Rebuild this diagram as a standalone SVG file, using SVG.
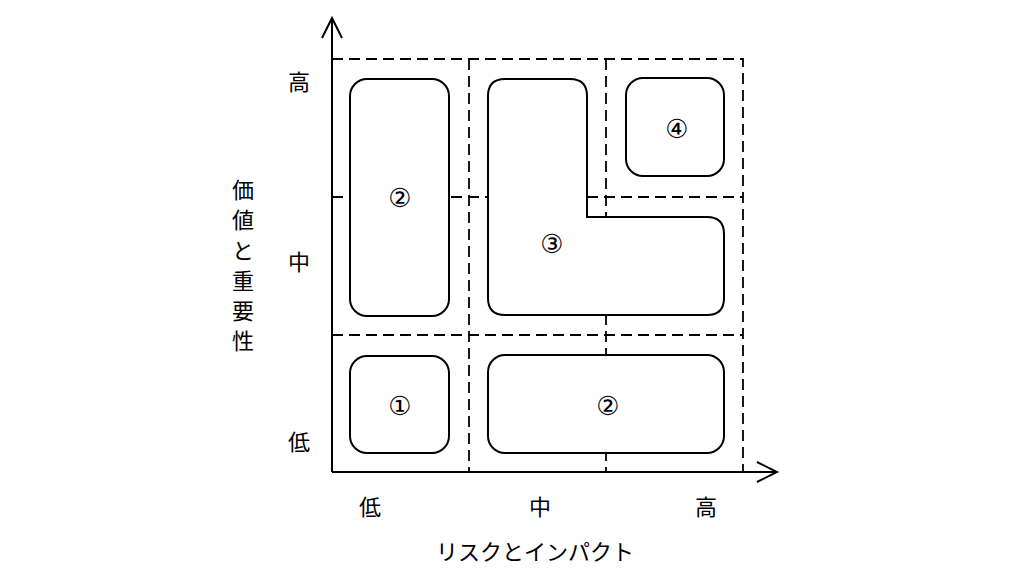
<svg xmlns="http://www.w3.org/2000/svg" width="1019" height="584" viewBox="0 0 1019 584">
<style>
.d{stroke:#000;stroke-width:1.8;stroke-dasharray:11,6;fill:none}
.s{stroke:#000;stroke-width:2;fill:#fff}
.a{stroke:#000;stroke-width:2;fill:none}
text{font-family:"Noto Sans CJK JP","Liberation Serif",serif;font-size:22px;fill:#000;text-anchor:middle;dominant-baseline:central}
.c{font-family:"DejaVu Sans","Noto Sans CJK JP",sans-serif;font-size:26px}
</style>
<rect width="1019" height="584" fill="#fff"/>
<g id="grid">
<path class="d" d="M332 59H743V472M469 59V472M606 59V472M332 197H743M332 335H743"/>
</g>
<g id="connectors">
<path class="a" d="M332 472V20M322 38L332 18L342 38"/>
<path class="a" d="M332 472H775M757 462L777 472L757 482"/>
</g>
<g id="n2a"><rect class="s" x="350" y="79" width="99" height="237" rx="17"/><text class="c" x="400" y="198">②</text></g>
<g id="n3"><path class="s" d="M505 79H570Q587 79 587 96V217H707Q724 217 724 234V298Q724 315 707 315H505Q488 315 488 298V96Q488 79 505 79Z"/><text class="c" x="552" y="244">③</text></g>
<g id="n4"><rect class="s" x="626" y="78" width="98" height="98" rx="17"/><text class="c" x="677" y="129">④</text></g>
<g id="n1"><rect class="s" x="350" y="356" width="99" height="97" rx="17"/><text class="c" x="400" y="406">①</text></g>
<g id="n2b"><rect class="s" x="488" y="355" width="236" height="98" rx="17"/><text class="c" x="608" y="406">②</text></g>
<g id="labels">
<text x="299" y="80">高</text><text x="299" y="260">中</text><text x="299" y="440">低</text>
<text x="370" y="505">低</text><text x="540" y="505">中</text><text x="706" y="505">高</text>
<text x="535" y="550">リスクとインパクト</text>
<text x="243" y="188">価</text><text x="243" y="218">値</text><text x="243" y="249">と</text><text x="243" y="279">重</text><text x="243" y="309">要</text><text x="243" y="339">性</text>
</g>
</svg>
